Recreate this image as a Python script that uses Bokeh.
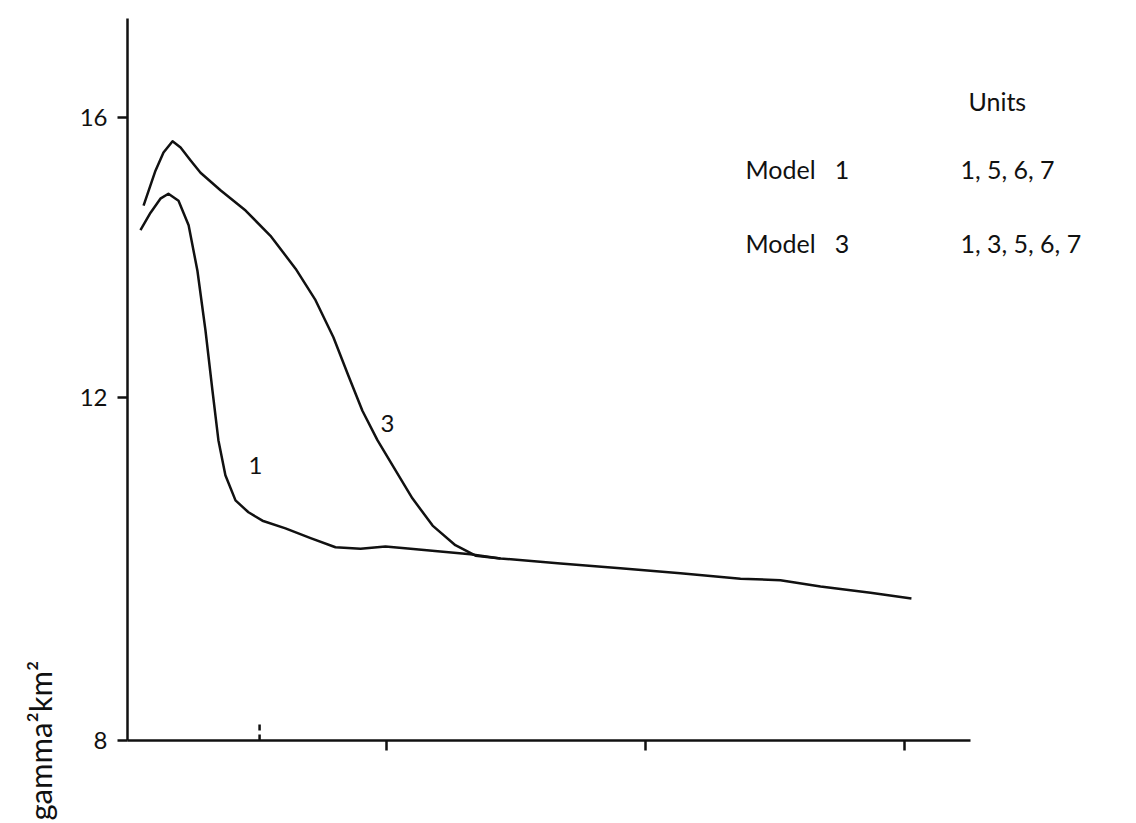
from bokeh.plotting import figure
from bokeh.models import Range1d, FixedTicker, Label, Title
from bokeh.embed import file_html
from bokeh.resources import INLINE

# ---- data ----
y_ticks = [7.1, 12, 16]
y_tick_labels = {7.1: "8", 12: "12", 16: "16"}
x_ticks = [1, 2, 3]

model1_x = [0.050, 0.089, 0.127, 0.158, 0.197, 0.236, 0.270, 0.301, 0.328, 0.351,
            0.378, 0.417, 0.467, 0.521, 0.610, 0.707, 0.803, 0.900, 0.996, 1.093,
            1.208, 1.324, 1.440, 1.672, 1.903, 2.135, 2.367, 2.521, 2.676, 2.869, 3.027]
model1_y = [14.39, 14.64, 14.84, 14.91, 14.81, 14.46, 13.81, 12.96, 12.10, 11.39,
            10.89, 10.53, 10.36, 10.24, 10.13, 9.99, 9.86, 9.84, 9.87, 9.84,
            9.80, 9.76, 9.70, 9.63, 9.56, 9.49, 9.41, 9.39, 9.30, 9.21, 9.13]

model3_x = [0.062, 0.108, 0.139, 0.174, 0.205, 0.243, 0.282, 0.359, 0.456, 0.552,
            0.649, 0.726, 0.795, 0.853, 0.907, 0.965, 1.035, 1.100, 1.178, 1.266,
            1.344, 1.440]
model3_y = [14.74, 15.24, 15.50, 15.66, 15.57, 15.39, 15.21, 14.96, 14.67, 14.31,
            13.84, 13.39, 12.86, 12.31, 11.81, 11.39, 10.96, 10.56, 10.17, 9.89,
            9.74, 9.70]

curve_label_text = ["1", "3"]
curve_label_x = [0.494, 1.004]
curve_label_y = [11.03, 11.63]

marker_x = [0.51]

units_title = "Units"
model_names = ["Model\u00a0\u00a0 1", "Model\u00a0\u00a0 3"]
model_units = ["1, 5, 6, 7", "1, 3, 5, 6, 7"]
y_axis_label = "gamma\u00b2km\u00b2"

FONT = "Lato"
INK = "#111111"

X_AXIS_END = 3.255
p = figure(width=1136, height=823, output_backend="svg", toolbar_location=None,
           x_range=Range1d(0, 3.896), y_range=Range1d(7.1, 17.414),
           min_border_left=127, min_border_right=0, min_border_top=18,
           min_border_bottom=83)
p.outline_line_color = None
p.xgrid.visible = False
p.ygrid.visible = False
p.background_fill_color = "white"
p.border_fill_color = "white"

# y axis
p.yaxis.ticker = FixedTicker(ticks=y_ticks)
p.yaxis.major_label_overrides = y_tick_labels
p.yaxis.minor_tick_line_color = None
p.yaxis.major_tick_out = 10
p.yaxis.major_tick_in = 0
p.yaxis.major_tick_line_width = 2.5
p.yaxis.major_tick_line_color = INK
p.yaxis.axis_line_width = 2.5
p.yaxis.axis_line_color = INK
p.yaxis.major_label_text_font = FONT
p.yaxis.major_label_text_font_size = "24px"
p.yaxis.major_label_text_color = INK
p.yaxis.major_label_standoff = 10

# x axis (line limited to the drawn extent, ticks without labels)
p.xaxis.bounds = (0, X_AXIS_END)
p.xaxis.ticker = FixedTicker(ticks=x_ticks)
p.xaxis.major_label_overrides = {t: "" for t in x_ticks}
p.xaxis.minor_tick_line_color = None
p.xaxis.major_tick_out = 10
p.xaxis.major_tick_in = 0
p.xaxis.major_tick_line_width = 2.5
p.xaxis.major_tick_line_color = INK
p.xaxis.axis_line_width = 2.5
p.xaxis.axis_line_color = INK

# curves
p.line(model3_x, model3_y, line_color=INK, line_width=2.5, line_join="round")
p.line(model1_x, model1_y, line_color=INK, line_width=2.5, line_join="round")

# small dashed marker on the x axis
p.segment(x0=marker_x, y0=[7.1] * len(marker_x), x1=marker_x, y1=[7.38] * len(marker_x),
          line_color=INK, line_width=2.5, line_dash="6 4")

# curve labels
for t, x, y in zip(curve_label_text, curve_label_x, curve_label_y):
    p.add_layout(Label(x=x, y=y, text=t, text_font=FONT, text_font_size="24px",
                       text_color=INK, text_align="center", text_baseline="middle"))

# units block (legend-like text)
p.add_layout(Label(x=3.247, y=16.24, text=units_title, text_font=FONT,
                   text_font_size="25px", text_color=INK, text_baseline="middle"))
for i, (name, units) in enumerate(zip(model_names, model_units)):
    yy = [15.27, 14.21][i]
    p.add_layout(Label(x=2.386, y=yy, text=name, text_font=FONT, text_font_size="25px",
                       text_color=INK, text_baseline="middle"))
    p.add_layout(Label(x=3.216, y=yy, text=units, text_font=FONT, text_font_size="25px",
                       text_color=INK, text_baseline="middle"))

# y axis label at lower left, rotated (placed as a side title)
p.add_layout(Title(text=y_axis_label, align="left", offset=-80, standoff=35,
                   text_font=FONT, text_font_size="31px", text_color=INK,
                   text_font_style="normal"), "left")

open("out.html", "w").write(file_html(p, INLINE))
